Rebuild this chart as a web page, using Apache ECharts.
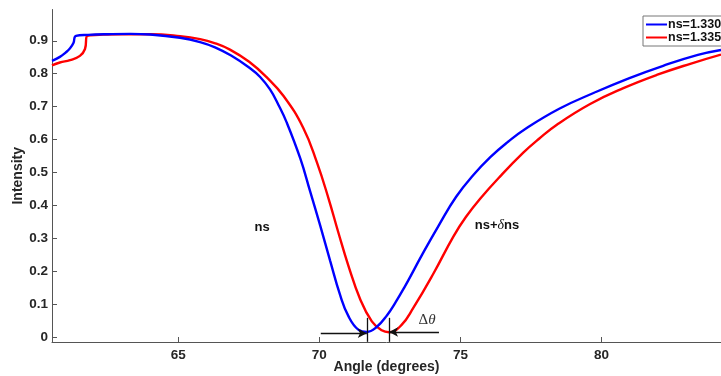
<!DOCTYPE html>
<html>
<head>
<meta charset="utf-8">
<script src="https://cdn.jsdelivr.net/npm/echarts@6/dist/echarts.min.js"></script>
<style>
html,body{margin:0;padding:0;background:#fff;}
#chart{width:721px;height:376px;}
</style>
</head>
<body>
<div id="chart"></div>
<script>
// SPR reflectivity curves for two sample refractive indices
const seriesNames = ['ns=1.330', 'ns=1.335'];

const angleNs1 = [60.52, 60.80, 61.00, 61.16, 61.28, 61.37, 61.8, 62.5, 63.3, 64.0, 65.06, 65.77, 66.3, 66.87, 67.52, 67.90, 68.25, 68.55, 68.84, 69.32, 69.67, 70.03, 70.38, 70.74, 71.03, 71.38, 71.68, 72.03, 72.40, 72.70, 73.01, 73.33, 73.63, 74.24, 74.85, 75.46, 76.07, 76.69, 77.30, 78.52, 79.74, 80.97, 82.19, 83.42, 84.24];
const intensityNs1 = [0.839, 0.851, 0.864, 0.877, 0.893, 0.915, 0.918, 0.920, 0.921, 0.919, 0.909, 0.896, 0.880, 0.855, 0.818, 0.790, 0.752, 0.705, 0.652, 0.543, 0.443, 0.338, 0.232, 0.126, 0.063, 0.022, 0.015, 0.030, 0.066, 0.105, 0.150, 0.200, 0.248, 0.340, 0.426, 0.492, 0.547, 0.593, 0.632, 0.694, 0.742, 0.786, 0.824, 0.857, 0.872];

const angleNs2 = [60.52, 60.80, 61.16, 61.51, 61.69, 61.77, 62.2, 63.0, 64.0, 65.06, 65.77, 66.28, 66.83, 67.51, 68.12, 68.73, 69.43, 69.91, 70.32, 70.67, 71.03, 71.44, 71.86, 72.21, 72.47, 72.9, 73.33, 74.04, 74.75, 75.20, 75.70, 76.41, 77.23, 77.80, 78.42, 79.60, 80.78, 81.96, 83.15, 84.24];
const intensityNs2 = [0.825, 0.834, 0.841, 0.854, 0.875, 0.915, 0.918, 0.920, 0.920, 0.914, 0.905, 0.893, 0.873, 0.836, 0.790, 0.732, 0.635, 0.531, 0.422, 0.318, 0.216, 0.116, 0.047, 0.020, 0.014, 0.035, 0.088, 0.192, 0.305, 0.365, 0.420, 0.488, 0.560, 0.603, 0.645, 0.708, 0.756, 0.796, 0.830, 0.858];

const xTicks = [65, 70, 75, 80];
const yTicks = [0, 0.1, 0.2, 0.3, 0.4, 0.5, 0.6, 0.7, 0.8, 0.9];
const yTickLabels = ['0', '0.1', '0.2', '0.3', '0.4', '0.5', '0.6', '0.7', '0.8', '0.9'];

// resonance angles of the two curves and the shift annotation
const dipAngles = [71.68, 72.47];
const dipMarkerSpan = [0.058, -0.015];
const arrowStart = [[70.05, 0.011], [74.24, 0.015]];
const labelNs = [67.97, 0.332];
const labelNsShift = [76.30, 0.338];
const labelDelta = [73.82, 0.052];

const zip = (xs, ys) => xs.map((x, i) => [x, ys[i]]);

const font = 'Liberation Sans, Arial, Helvetica, sans-serif';
const serif = 'Liberation Serif, DejaVu Serif, serif';
const axisColor = '#555';
const textColor = '#262626';

const chart = echarts.init(document.getElementById('chart'), null, {renderer: 'canvas'});

const annotationLines = [
  [{coord: [dipAngles[0], dipMarkerSpan[0]], symbol: 'none'}, {coord: [dipAngles[0], dipMarkerSpan[1]], symbol: 'none'}],
  [{coord: [dipAngles[1], dipMarkerSpan[0]], symbol: 'none'}, {coord: [dipAngles[1], dipMarkerSpan[1]], symbol: 'none'}],
  [{coord: arrowStart[0], symbol: 'none'}, {coord: [dipAngles[0], arrowStart[0][1]], symbol: 'arrow'}],
  [{coord: arrowStart[1], symbol: 'none'}, {coord: [dipAngles[1], arrowStart[1][1]], symbol: 'arrow'}]
];

chart.setOption({
  animation: false,
  backgroundColor: '#fff',
  grid: {left: 52, right: 0, top: 9.5, bottom: 34, containLabel: false, outerBoundsMode: 'none'},
  legend: {
    orient: 'vertical',
    left: 643, top: 16,
    data: seriesNames,
    icon: 'rect',
    itemWidth: 21, itemHeight: 2,
    itemGap: 0,
    padding: [2, 6, 2, 3],
    borderColor: '#777', borderWidth: 1,
    backgroundColor: '#fff',
    textStyle: {fontFamily: font, fontWeight: 'bold', fontSize: 12.5, color: '#111', padding: [0, 0, 0, -4], lineHeight: 11}
  },
  xAxis: {
    type: 'value',
    min: 60.52, max: 84.24,
    name: 'Angle (degrees)',
    nameLocation: 'middle', nameGap: 18, nameMoveOverlap: false,
    nameTextStyle: {fontFamily: font, fontWeight: 'bold', fontSize: 14, color: textColor},
    axisLine: {show: true, onZero: false, lineStyle: {color: axisColor, width: 1}},
    axisTick: {show: true, inside: true, length: 5, customValues: xTicks, lineStyle: {color: axisColor}},
    axisLabel: {customValues: xTicks, fontFamily: font, fontWeight: 'bold', fontSize: 13.5, color: textColor, margin: 6},
    splitLine: {show: false}
  },
  yAxis: {
    type: 'value',
    min: -0.0155, max: 0.995,
    name: 'Intensity',
    nameLocation: 'middle', nameGap: 27, nameMoveOverlap: false,
    nameTextStyle: {fontFamily: font, fontWeight: 'bold', fontSize: 14, color: textColor},
    axisLine: {show: true, onZero: false, lineStyle: {color: axisColor, width: 1}},
    axisTick: {show: true, inside: true, length: 5, customValues: yTicks, lineStyle: {color: axisColor}},
    axisLabel: {
      customValues: yTicks,
      formatter: v => yTickLabels[yTicks.findIndex(t => Math.abs(t - v) < 1e-6)] ?? '',
      fontFamily: font, fontWeight: 'bold', fontSize: 13.5, color: textColor, margin: 4
    },
    splitLine: {show: false}
  },
  series: [
    {
      name: seriesNames[0], type: 'line',
      data: zip(angleNs1, intensityNs1),
      smooth: 0.45,
      showSymbol: false,
      lineStyle: {color: '#0000ff', width: 2.4},
      itemStyle: {color: '#0000ff'},
      z: 3
    },
    {
      name: seriesNames[1], type: 'line',
      data: zip(angleNs2, intensityNs2),
      smooth: 0.45,
      showSymbol: false,
      lineStyle: {color: '#ff0000', width: 2.4},
      itemStyle: {color: '#ff0000'},
      z: 2,
      markLine: {
        silent: true,
        symbolSize: [7, 9],
        lineStyle: {color: '#111', width: 1.3, type: 'solid'},
        label: {show: false},
        data: annotationLines,
        z: 5
      },
      markPoint: {
        silent: true,
        symbol: 'circle', symbolSize: 0,
        label: {show: true, position: 'inside', fontFamily: font, fontWeight: 'bold', fontSize: 13, color: '#111',
          rich: {
            it: {fontFamily: serif, fontStyle: 'italic', fontWeight: 'normal', fontSize: 14, color: '#111'},
            b: {fontFamily: font, fontWeight: 'bold', fontSize: 13, color: '#111'},
            d: {fontFamily: serif, fontWeight: 'normal', fontSize: 15, color: '#333'},
            dt: {fontFamily: serif, fontStyle: 'italic', fontWeight: 'normal', fontSize: 15, color: '#333'}
          }
        },
        data: [
          {coord: labelNs, label: {formatter: '{b|ns}'}},
          {coord: labelNsShift, label: {formatter: '{b|ns+}{it|δ}{b|ns}'}},
          {coord: labelDelta, label: {formatter: '{d|Δ}{dt|θ}'}}
        ]
      }
    }
  ]
});
</script>
</body>
</html>
